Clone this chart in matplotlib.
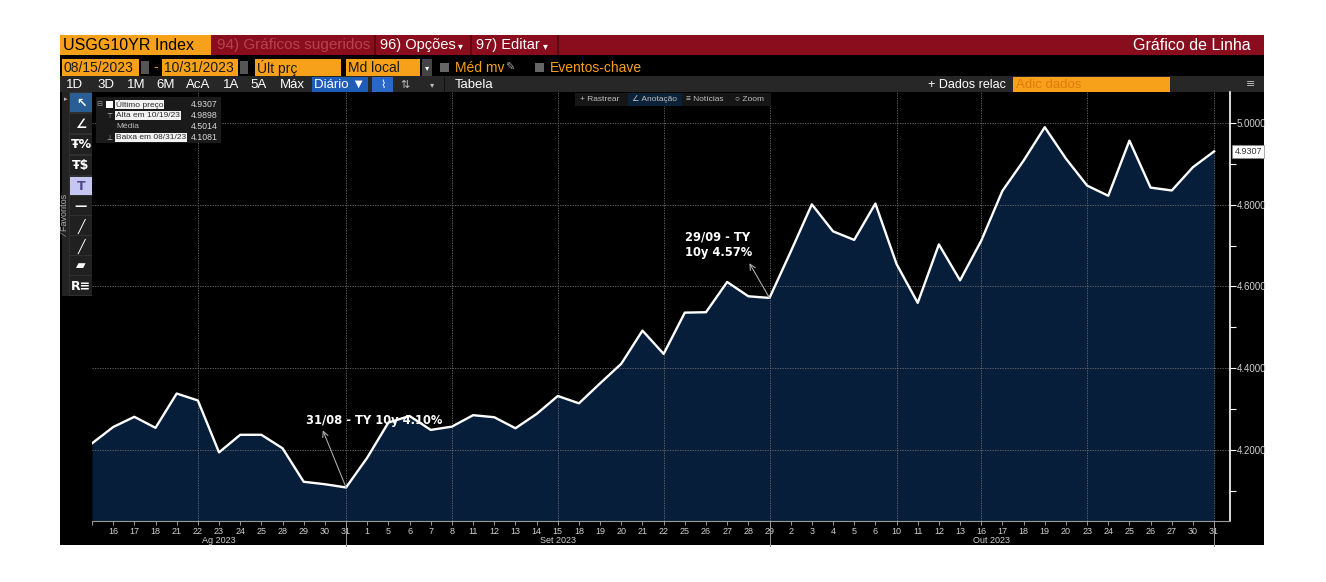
import numpy as np
import matplotlib
matplotlib.use('Agg')
import matplotlib.pyplot as plt
import matplotlib.transforms as mtransforms
from matplotlib.patches import Rectangle

plt.rcParams['font.family'] = ['Liberation Sans', 'DejaVu Sans']

# USGG10YR daily closes, 08/15/2023 - 10/31/2023
days = ['15', '16', '17', '18', '21', '22', '23', '24', '25', '28', '29', '30', '31',
        '1', '5', '6', '7', '8', '11', '12', '13', '14', '15', '18', '19', '20', '21', '22',
        '25', '26', '27', '28', '29',
        '2', '3', '4', '5', '6', '10', '11', '12', '13', '16', '17', '18', '19', '20',
        '23', '24', '25', '26', '27', '30', '31']
yields = [4.216, 4.256, 4.281, 4.254, 4.338, 4.321, 4.194, 4.237, 4.237, 4.204, 4.122, 4.116, 4.1081,
          4.181, 4.267, 4.283, 4.249, 4.257, 4.285, 4.280, 4.253, 4.288, 4.332, 4.314, 4.363, 4.411,
          4.492, 4.435, 4.536, 4.537, 4.611, 4.576, 4.572,
          4.685, 4.801, 4.735, 4.714, 4.803, 4.655, 4.560, 4.703, 4.615, 4.712, 4.834, 4.908,
          4.9898, 4.913, 4.847, 4.822, 4.957, 4.842, 4.835, 4.892, 4.9307]
months = ['Ag 2023', 'Set 2023', 'Out 2023']
month_label_idx = [6, 22, 42.5]
month_sep_idx = [12, 32, 53]
vgrid_idx = [5, 12, 17, 22, 27, 32, 38, 42, 47, 53]
legend_rows = [('Último preço', '4.9307'), ('Alta em 10/19/23', '4.9898'),
               ('Média', '4.5014'), ('Baixa em 08/31/23', '4.1081')]

W, H = 1326, 582
fig = plt.figure(figsize=(W / 100, H / 100), dpi=100, facecolor='white')


def fx(x):
    return x / W


def fy(y):
    return 1 - y / H


def box(x0, y0, x1, y1, color, z=-1):
    fig.patches.append(Rectangle((fx(x0), fy(y1)), (x1 - x0) / W, (y1 - y0) / H,
                                 transform=fig.transFigure, facecolor=color,
                                 edgecolor='none', zorder=z))


def txt(x, y, s, **kw):
    kw.setdefault('va', 'center')
    kw.setdefault('color', 'white')
    kw.setdefault('zorder', 6)
    fig.text(fx(x), fy(y), s, **kw)


ORANGE = '#f7a11a'
RED = '#8a0d1e'

# whole terminal panel
box(60, 35, 1264, 545, 'black', z=-2)

# row 1 - title bar
box(60, 35, 1264, 55, RED)
box(60, 35, 211, 55, ORANGE)
txt(63, 45.5, 'USGG10YR Index', color='black', fontsize=11.5)
txt(217, 45.5, '94) Gráficos sugeridos', color='#b5434f', fontsize=11)
for sx in [374, 470, 557]:
    box(sx, 35, sx + 1.5, 55, '#5c0812')
txt(380, 45.5, '96) Opções', fontsize=10.5)
txt(458, 46, '▾', fontsize=7, family='DejaVu Sans')
txt(476, 45.5, '97) Editar', fontsize=10.5)
txt(543, 46, '▾', fontsize=7, family='DejaVu Sans')
txt(1251, 45.5, 'Gráfico de Linha', fontsize=11.5, ha='right')

# row 2 - date range and options
for x0, x1, s in [(62, 139, '08/15/2023'), (162, 238, '10/31/2023'),
                  (255, 341, 'Últ prç'), (346, 420, 'Md local')]:
    box(x0, 59, x1, 76, ORANGE)
    txt(x0 + 2, 67.5, s, color='#1a1a1a', fontsize=10)
for x0 in [141, 240]:
    box(x0, 61, x0 + 8, 74, '#555555')
txt(153, 67.5, '-', color=ORANGE, fontsize=10)
box(422, 59, 432, 76, '#444444')
txt(427, 68, '▾', fontsize=6, ha='center', family='DejaVu Sans')
box(440, 63, 449, 72, '#666666')
txt(455, 67.5, 'Méd mv', color=ORANGE, fontsize=10)
txt(505, 67.5, '✎', color='#aaaaaa', fontsize=8, family='DejaVu Sans')
box(535, 63, 544, 72, '#666666')
txt(550, 67.5, 'Eventos-chave', color=ORANGE, fontsize=10)

# row 3 - period buttons
box(60, 76, 1264, 92, '#272727')
for cx, s in [(75, '1D'), (106, '3D'), (136, '1M'), (166, '6M'), (198, 'AcA'),
              (231, '1A'), (259, '5A'), (292, 'Máx')]:
    txt(cx, 84.5, s, fontsize=9.5, ha='center')
box(312, 77, 368, 92, '#1f5cb8')
txt(340, 84.5, 'Diário ▼', fontsize=9.5, ha='center', family=['Liberation Sans', 'DejaVu Sans'])
box(372, 77, 393, 92, '#2a68c8')
txt(382.5, 84.5, '⌇', fontsize=8, ha='center', family='DejaVu Sans')
txt(405, 84.5, '⇅', fontsize=8, ha='center', color='#bbbbbb', family='DejaVu Sans')
txt(432, 85, '▾', fontsize=6, ha='center', color='#bbbbbb', family='DejaVu Sans')
box(444, 77, 445, 92, '#111111')
txt(455, 84.5, 'Tabela', fontsize=9.5)
txt(928, 84.5, '+ Dados relac', fontsize=9)
box(1013, 77, 1170, 92, ORANGE)
txt(1016, 84.5, 'Adic dados', color='#e07a10', fontsize=9.5)
txt(1251, 84.5, '≡', fontsize=8, ha='center', color='#bbbbbb', family='DejaVu Sans')

# main chart axes
ax = fig.add_axes([fx(92), fy(521), (1230 - 92) / W, (521 - 92) / H])
ax.set_facecolor('black')
x = np.arange(len(yields))
ymin, ymax = 4.026, 5.076
ax.fill_between(x, yields, ymin, color='#061e3a', linewidth=0, zorder=1)
ax.plot(x, yields, color='white', linewidth=1.7, zorder=3)
ax.set_xlim(0, 53.75)
ax.set_ylim(ymin, ymax)

for v in np.arange(4.2, 5.01, 0.2):
    ax.axhline(v, color='#707070', linestyle=(0, (1.5, 1.5)), linewidth=0.6, zorder=2)
for i in vgrid_idx:
    ax.axvline(i, color='#707070', linestyle=(0, (1.5, 1.5)), linewidth=0.6, zorder=2)

for side in ['top', 'left']:
    ax.spines[side].set_visible(False)
ax.spines['right'].set_color('white')
ax.spines['right'].set_linewidth(1.2)
ax.spines['bottom'].set_color('#9a9a9a')

ax.yaxis.tick_right()
ax.set_yticks(np.arange(4.2, 5.01, 0.2))
ax.set_yticklabels(['%.4f' % v for v in np.arange(4.2, 5.01, 0.2)])
ax.set_yticks(np.arange(4.1, 5.01, 0.2), minor=True)
ax.tick_params(axis='y', which='both', colors='white', labelcolor='#d0d0d0',
               labelsize=7, length=4, width=0.8, pad=1)
ax.set_xticks(x)
ax.set_xticklabels([''] + days[1:])
ax.tick_params(axis='x', colors='#9a9a9a', labelcolor='#d0d0d0', labelsize=6.5,
               length=3, width=0.7, pad=1)

trans = mtransforms.blended_transform_factory(ax.transData, ax.transAxes)
for i, m in zip(month_label_idx, months):
    ax.text(i, -0.036, m, transform=trans, ha='center', va='top',
            color='#d0d0d0', fontsize=6.5)
for i in month_sep_idx:
    ax.plot([i, i], [0, -0.058], transform=trans, color='#9a9a9a',
            linewidth=0.7, clip_on=False)

# last price tag
ax.text(1.004, yields[-1], '%.4f' % yields[-1], transform=mtransforms.blended_transform_factory(ax.transAxes, ax.transData),
        ha='left', va='center', fontsize=6.5, color='#333333',
        bbox=dict(boxstyle='square,pad=0.25', facecolor='white', edgecolor='#888888', linewidth=0.5))

# annotations
akw = dict(arrowstyle='->', color='#aaaaaa', linewidth=0.8, shrinkA=0, shrinkB=0)
i1 = 12
ax.annotate('', xy=(i1 - 1.1, yields[i1] + 0.14), xytext=(i1, yields[i1]), arrowprops=akw, zorder=5)
ax.text(i1 + 1.35, yields[i1] + 0.163, '31/08 - TY 10y 4.10%', ha='center', va='center',
        color='white', fontsize=8.3, fontweight='bold', family='DejaVu Sans', zorder=6)
i2 = 32
ax.annotate('', xy=(i2 - 0.95, yields[i2] + 0.085), xytext=(i2, yields[i2]), arrowprops=akw, zorder=5)
ax.text(i2 - 4.0, yields[i2] + 0.13, '29/09 - TY\n10y 4.57%', ha='left', va='center',
        color='white', fontsize=8.3, fontweight='bold', family='DejaVu Sans',
        linespacing=1.2, zorder=6)

# track / annotate / news toolbar
box(575, 93, 771, 106, '#161616', z=5)
box(628, 93, 682, 106, '#0c2238', z=5)
for px_, s in [(580, '+ Rastrear'), (632, '∠ Anotação'), (686, '≡ Notícias'), (735, '○ Zoom')]:
    txt(px_, 99.5, s, color='#c0c0c0', fontsize=6, family=['Liberation Sans', 'DejaVu Sans'])

# legend box
box(96, 97, 221, 143, '#1a1a1a', z=5)
box(106, 101, 113, 108, 'white', z=5)
for k, (lab, val) in enumerate(legend_rows):
    yy = 104.5 + k * 11
    if lab == 'Média':
        txt(116, yy, lab, color='#bbbbbb', fontsize=6)
    else:
        txt(116, yy, lab, color='#2a2a2a', fontsize=6,
            bbox=dict(boxstyle='square,pad=0.08', facecolor='#f2f2f2', edgecolor='none'))
    txt(218, yy, val, color='#d8d8d8', fontsize=6.3, ha='right')
for k, g in [(1, '⊤'), (3, '⊥')]:
    txt(109.5, 104.5 + k * 11, g, color='#bbbbbb', fontsize=5, ha='center', family='DejaVu Sans')
txt(99, 104.5, '⊟', color='#999999', fontsize=5, ha='center', family='DejaVu Sans')

# left drawing toolbar
box(62, 92, 92, 296, '#303030', z=5)
box(62, 92, 69, 296, '#232323', z=5)
txt(64, 99, '▸', color='#bbbbbb', fontsize=5, family='DejaVu Sans')
txt(66, 215, '⁄ Favoritos', color='#aaaaaa', fontsize=6.5, rotation=90, ha='center',
    family=['Liberation Sans', 'DejaVu Sans'])
tools = ['↖', '∠', 'Ŧ%', 'Ŧ$', 'T', '—', '╱', '╱', '▰', 'R≡']
tops = [93, 114, 135, 156, 177, 196, 216, 236, 256, 276]
for t, s in zip(tops, tools):
    if s == '↖':
        box(70, t, 92, t + 19, '#2a5f95', z=5)
    elif s == 'T':
        box(70, t, 92, t + 18, '#c6c6f2', z=5)
    else:
        box(70, t, 92, t + 19, '#202020', z=5)
    col = '#4a4a8a' if s == 'T' else 'white'
    txt(81, t + 10, s, color=col, fontsize=9, ha='center', fontweight='bold',
        family=['DejaVu Sans'])

fig.savefig('out.png', dpi=100, facecolor='white')
